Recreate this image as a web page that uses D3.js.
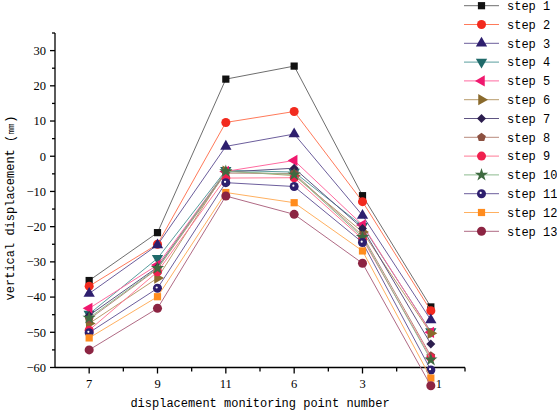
<!DOCTYPE html>
<html><head><meta charset="utf-8">
<script src="https://cdn.jsdelivr.net/npm/d3@7"></script>
<style>body{margin:0;background:#fff}svg{display:block}</style>
</head><body>
<svg id="c" width="557" height="411"></svg>
<script>
const categories = ["7","9","11","6","3","1"];
const seriesNames = ["step 1","step 2","step 3","step 4","step 5","step 6","step 7","step 8","step 9","step 10","step 11","step 12","step 13"];
const step1  = [-35.3, -21.7, 21.9, 25.6, -11.2, -42.8];
const step2  = [-36.9, -25.0, 9.6, 12.7, -12.9, -43.9];
const step3  = [-39.0, -25.2, 2.8, 6.3, -16.8, -46.5];
const step4  = [-44.8, -29.0, -4.0, -4.5, -19.8, -49.8];
const step5  = [-43.2, -30.9, -4.3, -1.2, -19.5, -50.0];
const step6  = [-47.5, -34.6, -4.2, -5.5, -21.5, -50.3];
const step7  = [-45.2, -31.5, -4.5, -3.4, -20.5, -53.3];
const step8  = [-46.3, -32.0, -4.8, -4.9, -22.5, -56.7];
const step9  = [-49.4, -32.8, -6.2, -6.1, -23.5, -57.2];
const step10 = [-45.9, -31.8, -4.3, -5.2, -23.0, -57.8];
const step11 = [-50.1, -37.5, -7.5, -8.6, -24.5, -60.7];
const step12 = [-51.6, -39.9, -10.3, -13.2, -26.9, -63.0];
const step13 = [-55.0, -43.2, -11.3, -16.5, -30.4, -65.2];
const yTicks = [-60,-50,-40,-30,-20,-10,0,10,20,30];
const allValues = [step1,step2,step3,step4,step5,step6,step7,step8,step9,step10,step11,step12,step13];

const markerColors = ["#111111","#f22a1e","#2e1f6e","#1f6a6a","#f0186e","#8a6a2c","#2c1e4e","#8c5040","#f0204e","#3e6a40","#2e1f6e","#ff8c1e","#8c2442"];
const lineColors   = ["#6e6e6e","#ff7a5a","#6c5e9c","#5a9e9e","#ff6aa0","#b89c6c","#5e5482","#b88a7c","#ff7a96","#8cba8e","#6c5e9c","#ffb060","#b06a84"];
const shapes = ["square","circle","triUp","triDown","triLeft","triRight","diamond","pentagon","circle","star","circleDot","square","circle"];

const svg = d3.select("#c");
const x = d3.scalePoint().domain(categories).range([55,465]).padding(0.5);
const y = d3.scaleLinear().domain([-60,35]).range([367.5,33]);

function shapePath(s){
  const tri = d3.symbol().type(d3.symbolTriangle).size(55)();
  switch(s){
    case "square": return {d:d3.symbol().type(d3.symbolSquare).size(52)(), r:0};
    case "circle": case "circleDot": return {d:d3.symbol().type(d3.symbolCircle).size(64)(), r:0};
    case "triUp": return {d:tri, r:0};
    case "triDown": return {d:tri, r:180};
    case "triLeft": return {d:tri, r:-90};
    case "triRight": return {d:tri, r:90};
    case "diamond": return {d:d3.symbol().type(d3.symbolSquare).size(40)(), r:45};
    case "pentagon": {
      const R=4.6; const pts=d3.range(5).map(i=>{const a=-Math.PI/2+i*2*Math.PI/5;return [R*Math.cos(a),R*Math.sin(a)];});
      return {d:"M"+pts.map(p=>p.join(",")).join("L")+"Z", r:0};
    }
    case "star": return {d:d3.symbol().type(d3.symbolStar).size(55)(), r:0};
  }
}
function drawMarker(g, s, color, cx, cy){
  const sp = shapePath(s);
  g.append("path").attr("d", sp.d).attr("fill", color)
    .attr("transform", `translate(${cx},${cy}) rotate(${sp.r})`);
  if (s==="circleDot") g.append("circle").attr("cx",cx-0.8).attr("cy",cy-0.8).attr("r",1.1).attr("fill","#fff");
}

// axes
const tickFont = "Liberation Serif, DejaVu Serif, serif";
const monoFont = "Liberation Mono, DejaVu Sans Mono, monospace";
const ax = svg.append("g").attr("stroke","#000").attr("stroke-width",1.3);
ax.append("line").attr("x1",55).attr("x2",55).attr("y1",y(35)).attr("y2",y(-60));
ax.append("line").attr("x1",55).attr("x2",465).attr("y1",y(-60)).attr("y2",y(-60));
const yMinor = d3.range(-55,35.1,10);
yTicks.forEach(v=>ax.append("line").attr("x1",50).attr("x2",55).attr("y1",y(v)).attr("y2",y(v)));
yMinor.forEach(v=>ax.append("line").attr("x1",52).attr("x2",55).attr("y1",y(v)).attr("y2",y(v)));
const step = x.step();
categories.forEach(c=>ax.append("line").attr("x1",x(c)).attr("x2",x(c)).attr("y1",y(-60)).attr("y2",y(-60)+6));
categories.forEach(c=>ax.append("line").attr("x1",x(c)+step/2).attr("x2",x(c)+step/2).attr("y1",y(-60)).attr("y2",y(-60)+4));

svg.append("g").selectAll("text").data(yTicks).join("text")
  .attr("x",46).attr("y",d=>y(d)).attr("dy","0.35em").attr("text-anchor","end")
  .attr("font-family",tickFont).attr("font-size",12.5).attr("fill","#000")
  .text(d=>d3.format("d")(d));

svg.append("text").attr("x",260).attr("y",407).attr("text-anchor","middle")
  .attr("font-family",monoFont).attr("font-size",12).attr("fill","#000")
  .text("displacement monitoring point number");
svg.append("text").attr("transform","translate(14,208) rotate(-90)").attr("text-anchor","middle")
  .attr("font-family",monoFont).attr("font-size",12).attr("fill","#000")
  .text("vertical displacement (㎜)");

// series
const line = d3.line().x((d,i)=>x(categories[i])).y(d=>y(d));
allValues.forEach((vals,k)=>{
  const g = svg.append("g");
  g.append("path").attr("d",line(vals)).attr("fill","none").attr("stroke",lineColors[k]).attr("stroke-width",1);
  vals.forEach((v,i)=>drawMarker(g, shapes[k], markerColors[k], x(categories[i]), y(v)));
});

// x tick labels on top of markers
svg.append("g").selectAll("text").data(categories).join("text")
  .attr("x",d=>x(d)).attr("dx",(d,i)=>i===categories.length-1?8:0).attr("y",388).attr("text-anchor","middle")
  .attr("font-family",tickFont).attr("font-size",12.5).attr("fill","#000")
  .text(d=>d);

// legend
const lg = svg.append("g");
seriesNames.forEach((n,k)=>{
  const yy = 5.7 + k*18.8;
  lg.append("line").attr("x1",464).attr("x2",499).attr("y1",yy).attr("y2",yy).attr("stroke",lineColors[k]).attr("stroke-width",1);
  drawMarker(lg, shapes[k], markerColors[k], 481.5, yy);
  lg.append("text").attr("x",507).attr("y",yy).attr("dy","0.35em")
    .attr("font-family",monoFont).attr("font-size",12).attr("fill","#000").text(n);
});
</script>
</body></html>
